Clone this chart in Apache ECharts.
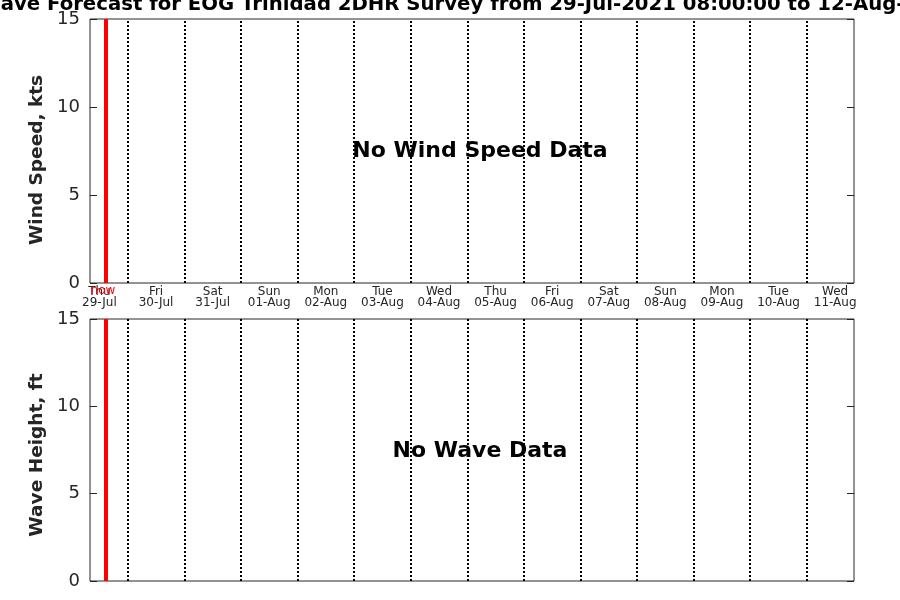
<!DOCTYPE html>
<html>
<head>
<meta charset="utf-8">
<script src="https://cdn.jsdelivr.net/npm/echarts@6/dist/echarts.min.js"></script>
<style>html,body{margin:0;padding:0;background:#fff}#c{width:900px;height:600px}</style>
</head>
<body>
<div id="c"></div>
<script>
// Hours since 29-Jul-2021 00:00
var weekdays = ['Thu','Fri','Sat','Sun','Mon','Tue','Wed','Thu','Fri','Sat','Sun','Mon','Tue','Wed'];
var dates = ['29-Jul','30-Jul','31-Jul','01-Aug','02-Aug','03-Aug','04-Aug','05-Aug','06-Aug','07-Aug','08-Aug','09-Aug','10-Aug','11-Aug'];
var labelHours = [12,36,60,84,108,132,156,180,204,228,252,276,300,324];
var dayBoundaries = [24,48,72,96,120,144,168,192,216,240,264,288,312];
var xStart = 8, xEnd = 332;
var nowHour = 14.75;
var windSpeed = [];   // no data
var waveHeight = [];  // no data
var titleText = 'Wind and Wave Forecast for EOG Trinidad 2DHR Survey from 29-Jul-2021 08:00:00 to 12-Aug-2021 08:00:00';

var FONT = 'DejaVu Sans';
var AX = '#262626';

function gridLines(withLabel){
  var d = dayBoundaries.map(function(h){
    return {xAxis:h, lineStyle:{color:'#000', width:2, type:[2,2]}, label:{show:false}};
  });
  d.push({xAxis:nowHour, lineStyle:{color:'#ff0000', width:4, type:'solid'},
    label:{show:withLabel, position:'start', formatter:'now', color:'#ff0000', fontFamily:FONT, fontSize:12, distance:2, offset:[-3,0]}});
  return {silent:true, symbol:['none','none'], animation:false, data:d};
}

function xAx(gi, showLabels){
  return {
    type:'value', gridIndex:gi, min:xStart, max:xEnd,
    axisLine:{show:false}, axisTick:{show:false}, splitLine:{show:false},
    axisLabel:{show:showLabels, customValues:labelHours, fontFamily:FONT, fontSize:12, color:AX, lineHeight:11, margin:3,
      formatter:function(v){var i=labelHours.indexOf(v);return i<0?'':weekdays[i]+'\n'+dates[i];}}
  };
}
function yAx(gi, name, right, pad){
  return {
    type:'value', gridIndex:gi, min:0, max:15, interval:5, position: right?'right':'left',
    name: right?'':name, nameLocation:'middle', nameGap:43,
    nameTextStyle:{fontFamily:FONT, fontSize:18.5, fontWeight:'bold', color:AX, padding:[0,pad||0,0,0]},
    axisLine:{show:false}, splitLine:{show:false},
    axisTick:{show:true, inside:true, length:7, lineStyle:{color:AX}},
    axisLabel:{show:!right, fontFamily:FONT, fontSize:18, color:AX, margin:10}
  };
}

var chart = echarts.init(document.getElementById('c'), null, {renderer:'canvas'});
chart.setOption({
  animation:false,
  backgroundColor:'#fff',
  title:[{text:titleText, left:461, top:-10, textAlign:'center',
    textStyle:{fontFamily:FONT, fontSize:19.7, fontWeight:'bold', color:'#000'}}],
  grid:[
    {left:90, right:46, top:19, height:264, show:true, borderColor:AX, borderWidth:1, backgroundColor:'#fff'},
    {left:90, right:46, top:319, height:262, show:true, borderColor:AX, borderWidth:1, backgroundColor:'#fff'}
  ],
  xAxis:[xAx(0,true), xAx(1,false)],
  yAxis:[yAx(0,'Wind Speed, kts',false,18), yAx(0,'',true), yAx(1,'Wave Height, ft',false,10), yAx(1,'',true)],
  series:[
    {type:'line', xAxisIndex:0, yAxisIndex:0, data:windSpeed, markLine:gridLines(true)},
    {type:'line', xAxisIndex:1, yAxisIndex:2, data:waveHeight, markLine:gridLines(false)}
  ],
  graphic:[
    {type:'text', x:480, y:151, style:{text:'No Wind Speed Data', fontFamily:FONT, fontSize:22, fontWeight:'bold', fill:'#000', align:'center', verticalAlign:'middle'}, z:100},
    {type:'text', x:480, y:451, style:{text:'No Wave Data', fontFamily:FONT, fontSize:22, fontWeight:'bold', fill:'#000', align:'center', verticalAlign:'middle'}, z:100}
  ]
});
</script>
</body>
</html>
